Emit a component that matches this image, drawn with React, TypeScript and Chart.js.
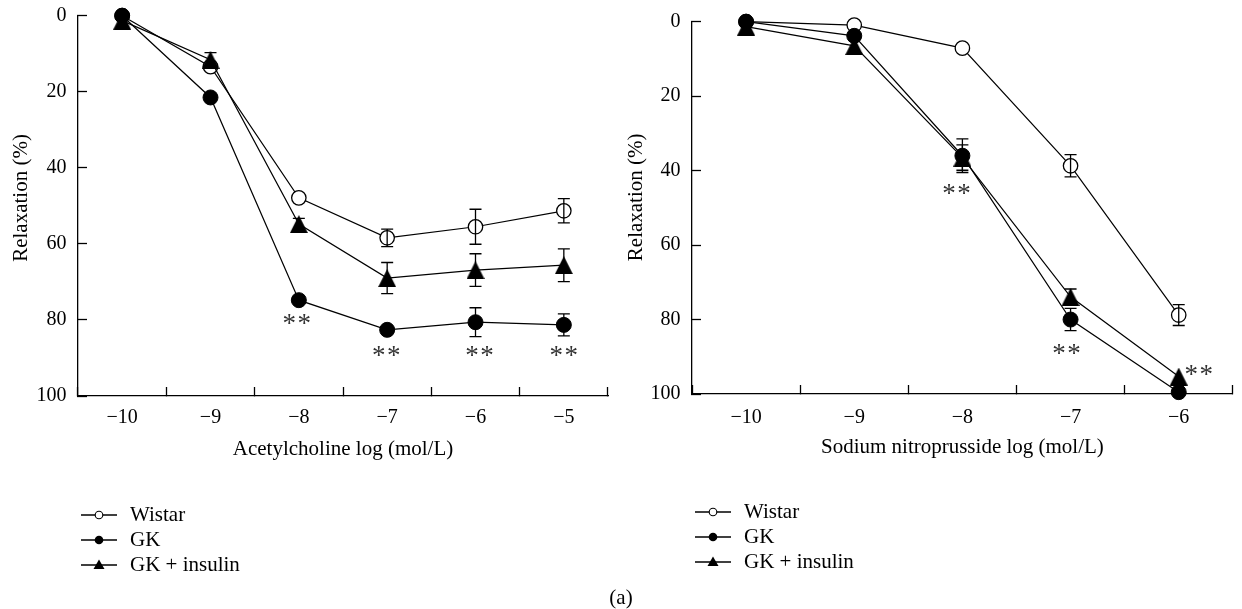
import React, { useEffect, useRef } from 'react';
import { Chart, registerables } from 'chart.js';

Chart.register(...registerables);

const FONT = "'Liberation Serif', 'Times New Roman', Times, serif";

// ---------- Data: Acetylcholine (left panel) ----------
const achLabels = ['−10', '−9', '−8', '−7', '−6', '−5'];
const achWistar = [0, 13.4, 47.9, 58.4, 55.5, 51.3];
const achWistarErr = [0, 0, 0, 2.3, 4.6, 3.2];
const achGK = [0, 21.5, 74.8, 82.6, 80.6, 81.3];
const achGKErr = [0, 0, 0, 0, 3.8, 2.9];
const achIns = [1.3, 11.6, 54.8, 69.0, 66.9, 65.6];
const achInsErr = [0, 1.9, 1.5, 4.1, 4.3, 4.3];
// significance marks (category index, anchor value, pixel nudge)
const achStarIdx = [2, 3, 4, 5];
const achStarVal = [80.0, 88.4, 88.4, 88.4];
const achStarDx = [-2, -1, 4, 0];

// ---------- Data: Sodium nitroprusside (right panel) ----------
const snpLabels = ['−10', '−9', '−8', '−7', '−6'];
const snpWistar = [0, 0.9, 7.1, 38.7, 78.8];
const snpWistarErr = [0, 0, 0, 3.0, 2.8];
const snpGK = [0, 3.8, 36.0, 80.0, 99.5];
const snpGKErr = [0, 0, 4.5, 3.0, 0];
const snpIns = [1.3, 6.5, 36.5, 73.9, 95.3];
const snpInsErr = [0, 0, 3.4, 2.1, 0];
const snpStarIdx = [2, 3, 4];
const snpStarVal = [45.2, 88.0, 93.6];
const snpStarDx = [-6, -4, 20];

const seriesNames = ['Wistar', 'GK', 'GK + insulin'];
const yTicks = [0, 20, 40, 60, 80, 100];

function makeTriangle(w: number, h: number): HTMLCanvasElement {
  const c = document.createElement('canvas');
  c.width = w;
  c.height = h;
  const ctx = c.getContext('2d')!;
  ctx.fillStyle = '#000';
  ctx.beginPath();
  ctx.moveTo(w / 2, 0);
  ctx.lineTo(w, h);
  ctx.lineTo(0, h);
  ctx.closePath();
  ctx.fill();
  return c;
}

const errorBarPlugin = {
  id: 'errorBars',
  afterDatasetsDraw(chart: any) {
    const { ctx } = chart;
    const xs = chart.scales.x;
    const ys = chart.scales.y;
    chart.data.datasets.forEach((ds: any) => {
      const errs: number[] = ds.errorBars;
      if (!errs) return;
      ds.data.forEach((v: number, i: number) => {
        const e = errs[i];
        if (!e) return;
        const px = xs.getPixelForValue(i);
        const y1 = ys.getPixelForValue(v - e);
        const y2 = ys.getPixelForValue(v + e);
        ctx.save();
        ctx.strokeStyle = '#000';
        ctx.lineWidth = 1.3;
        ctx.beginPath();
        ctx.moveTo(px, y1);
        ctx.lineTo(px, y2);
        ctx.moveTo(px - 6, y1);
        ctx.lineTo(px + 6, y1);
        ctx.moveTo(px - 6, y2);
        ctx.lineTo(px + 6, y2);
        ctx.stroke();
        ctx.restore();
      });
    });
  },
};

const starPlugin = {
  id: 'stars',
  afterDatasetsDraw(chart: any, _args: any, opts: any) {
    const { ctx } = chart;
    const xs = chart.scales.x;
    const ys = chart.scales.y;
    const idx: number[] = opts.idx || [];
    const fs = 27;
    ctx.save();
    ctx.fillStyle = '#333';
    ctx.font = `${fs}px ${FONT}`;
    ctx.textAlign = 'center';
    ctx.textBaseline = 'alphabetic';
    const m = ctx.measureText('*');
    const asc = m.actualBoundingBoxAscent || fs * 0.68;
    const desc = m.actualBoundingBoxDescent || -fs * 0.3;
    const shift = (asc - desc) / 2;
    idx.forEach((ix, k) => {
      const cx = xs.getPixelForValue(ix) + opts.dx[k];
      const cy = ys.getPixelForValue(opts.val[k]);
      ctx.fillText('*', cx - 7.5, cy + shift);
      ctx.fillText('*', cx + 7.5, cy + shift);
    });
    ctx.restore();
  },
};

const legendPlugin = {
  id: 'sideLegend',
  afterDraw(chart: any, _args: any, opts: any) {
    const { ctx } = chart;
    const left = chart.chartArea.left;
    ctx.save();
    chart.data.datasets.forEach((ds: any, i: number) => {
      const y = opts.rows[i];
      const x0 = left + opts.x0;
      const x1 = left + opts.x1;
      const mx = (x0 + x1) / 2;
      ctx.strokeStyle = '#000';
      ctx.lineWidth = 1.3;
      ctx.beginPath();
      ctx.moveTo(x0, y);
      ctx.lineTo(x1, y);
      ctx.stroke();
      if (ds.legendMarker === 'open') {
        ctx.beginPath();
        ctx.arc(mx, y, 3.8, 0, Math.PI * 2);
        ctx.fillStyle = '#fff';
        ctx.fill();
        ctx.lineWidth = 1.1;
        ctx.stroke();
      } else if (ds.legendMarker === 'filled') {
        ctx.beginPath();
        ctx.arc(mx, y, 4.3, 0, Math.PI * 2);
        ctx.fillStyle = '#000';
        ctx.fill();
      } else {
        ctx.beginPath();
        ctx.moveTo(mx, y - 5.5);
        ctx.lineTo(mx + 5.5, y + 4);
        ctx.lineTo(mx - 5.5, y + 4);
        ctx.closePath();
        ctx.fillStyle = '#000';
        ctx.fill();
      }
      ctx.fillStyle = '#000';
      ctx.font = `21px ${FONT}`;
      ctx.textAlign = 'left';
      ctx.textBaseline = 'middle';
      ctx.fillText(ds.label, left + opts.tx, y);
    });
    ctx.restore();
  },
};

type Geom = {
  top: number;
  right: number;
  bottom: number;
  yWidth: number;
  xHeight: number;
  xTickPad: number;
  xTitlePad: number;
  yTitlePad: number;
  legend: { x0: number; x1: number; tx: number; rows: number[] };
};

function buildConfig(
  labels: string[],
  wistar: number[],
  wistarErr: number[],
  gk: number[],
  gkErr: number[],
  ins: number[],
  insErr: number[],
  starIdx: number[],
  starVal: number[],
  starDx: number[],
  xTitle: string,
  yTitle: string,
  g: Geom
): any {
  const tri = makeTriangle(18, 18);
  const common = {
    borderColor: '#000',
    borderWidth: 1.2,
    tension: 0,
    fill: false,
    clip: false,
    pointBorderColor: '#000',
  };
  const gridBase = {
    drawOnChartArea: false,
    drawTicks: true,
    tickLength: -9,
    tickWidth: 1.3,
    tickColor: '#000',
    color: '#000',
  };
  return {
    type: 'line',
    data: {
      labels,
      datasets: [
        {
          ...common,
          label: seriesNames[0],
          data: wistar,
          errorBars: wistarErr,
          legendMarker: 'open',
          pointStyle: 'circle',
          pointRadius: 7.2,
          pointBackgroundColor: '#fff',
          pointBorderWidth: 1.3,
          order: 2,
        },
        {
          ...common,
          label: seriesNames[1],
          data: gk,
          errorBars: gkErr,
          legendMarker: 'filled',
          pointStyle: 'circle',
          pointRadius: 7.5,
          pointBackgroundColor: '#000',
          pointBorderWidth: 1,
          order: 0,
        },
        {
          ...common,
          label: seriesNames[2],
          data: ins,
          errorBars: insErr,
          legendMarker: 'triangle',
          pointStyle: tri,
          pointRadius: 8,
          pointBackgroundColor: '#000',
          order: 1,
        },
      ],
    },
    options: {
      responsive: false,
      animation: false,
      devicePixelRatio: 1,
      events: [],
      layout: { padding: { left: 0, top: g.top, right: g.right, bottom: g.bottom } },
      plugins: {
        legend: { display: false },
        tooltip: { enabled: false },
        stars: { idx: starIdx, val: starVal, dx: starDx },
        sideLegend: g.legend,
      },
      scales: {
        x: {
          type: 'category',
          offset: true,
          grid: { ...gridBase, offset: true },
          border: { display: true, color: '#000', width: 1.3 },
          ticks: {
            font: { family: FONT, size: 20 },
            color: '#000',
            padding: g.xTickPad,
            maxRotation: 0,
            autoSkip: false,
          },
          title: {
            display: true,
            text: xTitle,
            font: { family: FONT, size: 21 },
            color: '#000',
            padding: { top: 0, bottom: g.xTitlePad },
          },
          afterFit: (s: any) => {
            s.height = g.xHeight;
            s.paddingLeft = 0;
            s.paddingRight = 0;
          },
        },
        y: {
          type: 'linear',
          reverse: true,
          min: 0,
          max: 100,
          afterBuildTicks: (s: any) => {
            s.ticks = yTicks.map((v) => ({ value: v }));
          },
          grid: { ...gridBase, offset: false },
          border: { display: true, color: '#000', width: 1.3 },
          ticks: {
            font: { family: FONT, size: 20 },
            color: '#000',
            padding: 20.5,
          },
          title: {
            display: true,
            text: yTitle,
            font: { family: FONT, size: 21 },
            color: '#000',
            padding: { top: g.yTitlePad, bottom: 0 },
          },
          afterFit: (s: any) => {
            s.width = g.yWidth;
            s.paddingTop = 0;
            s.paddingBottom = 0;
          },
        },
      },
    },
    plugins: [errorBarPlugin, starPlugin, legendPlugin],
  };
}

function Panel(props: { left: number; width: number; height: number; make: () => any }) {
  const ref = useRef<HTMLCanvasElement | null>(null);
  useEffect(() => {
    const chart = new Chart(ref.current as HTMLCanvasElement, props.make());
    return () => chart.destroy();
  }, []);
  return (
    <canvas
      ref={ref}
      width={props.width}
      height={props.height}
      style={{ position: 'absolute', left: props.left, top: 0, width: props.width, height: props.height }}
    />
  );
}

export default function App() {
  const makeLeft = () =>
    buildConfig(
      achLabels, achWistar, achWistarErr, achGK, achGKErr, achIns, achInsErr,
      achStarIdx, achStarVal, achStarDx,
      'Acetylcholine log (mol/L)', '   Relaxation (%)',
      {
        top: 15.7, right: 12, bottom: 143, yWidth: 78, xHeight: 70,
        xTickPad: 19, xTitlePad: 3.6, yTitlePad: 8.4,
        legend: { x0: 3, x1: 39, tx: 52, rows: [515, 540, 565] },
      }
    );
  const makeRight = () =>
    buildConfig(
      snpLabels, snpWistar, snpWistarErr, snpGK, snpGKErr, snpIns, snpInsErr,
      snpStarIdx, snpStarVal, snpStarDx,
      'Sodium nitroprusside log (mol/L)', '    Relaxation (%)',
      {
        top: 21.7, right: 3, bottom: 145, yWidth: 72, xHeight: 70,
        xTickPad: 21, xTitlePad: 3.6, yTitlePad: 3.4,
        legend: { x0: 3, x1: 39, tx: 52, rows: [512, 537, 562] },
      }
    );
  return (
    <div style={{ position: 'absolute', left: 0, top: 0, width: 1242, height: 609, overflow: 'hidden', background: '#fff' }}>
      <Panel left={0} width={620} height={609} make={makeLeft} />
      <Panel left={620} width={622} height={609} make={makeRight} />
      <div
        style={{
          position: 'absolute',
          left: 0,
          width: 1242,
          top: 584,
          textAlign: 'center',
          fontFamily: FONT,
          fontSize: 21,
          lineHeight: '26px',
          color: '#000',
        }}
      >
        (a)
      </div>
    </div>
  );
}
